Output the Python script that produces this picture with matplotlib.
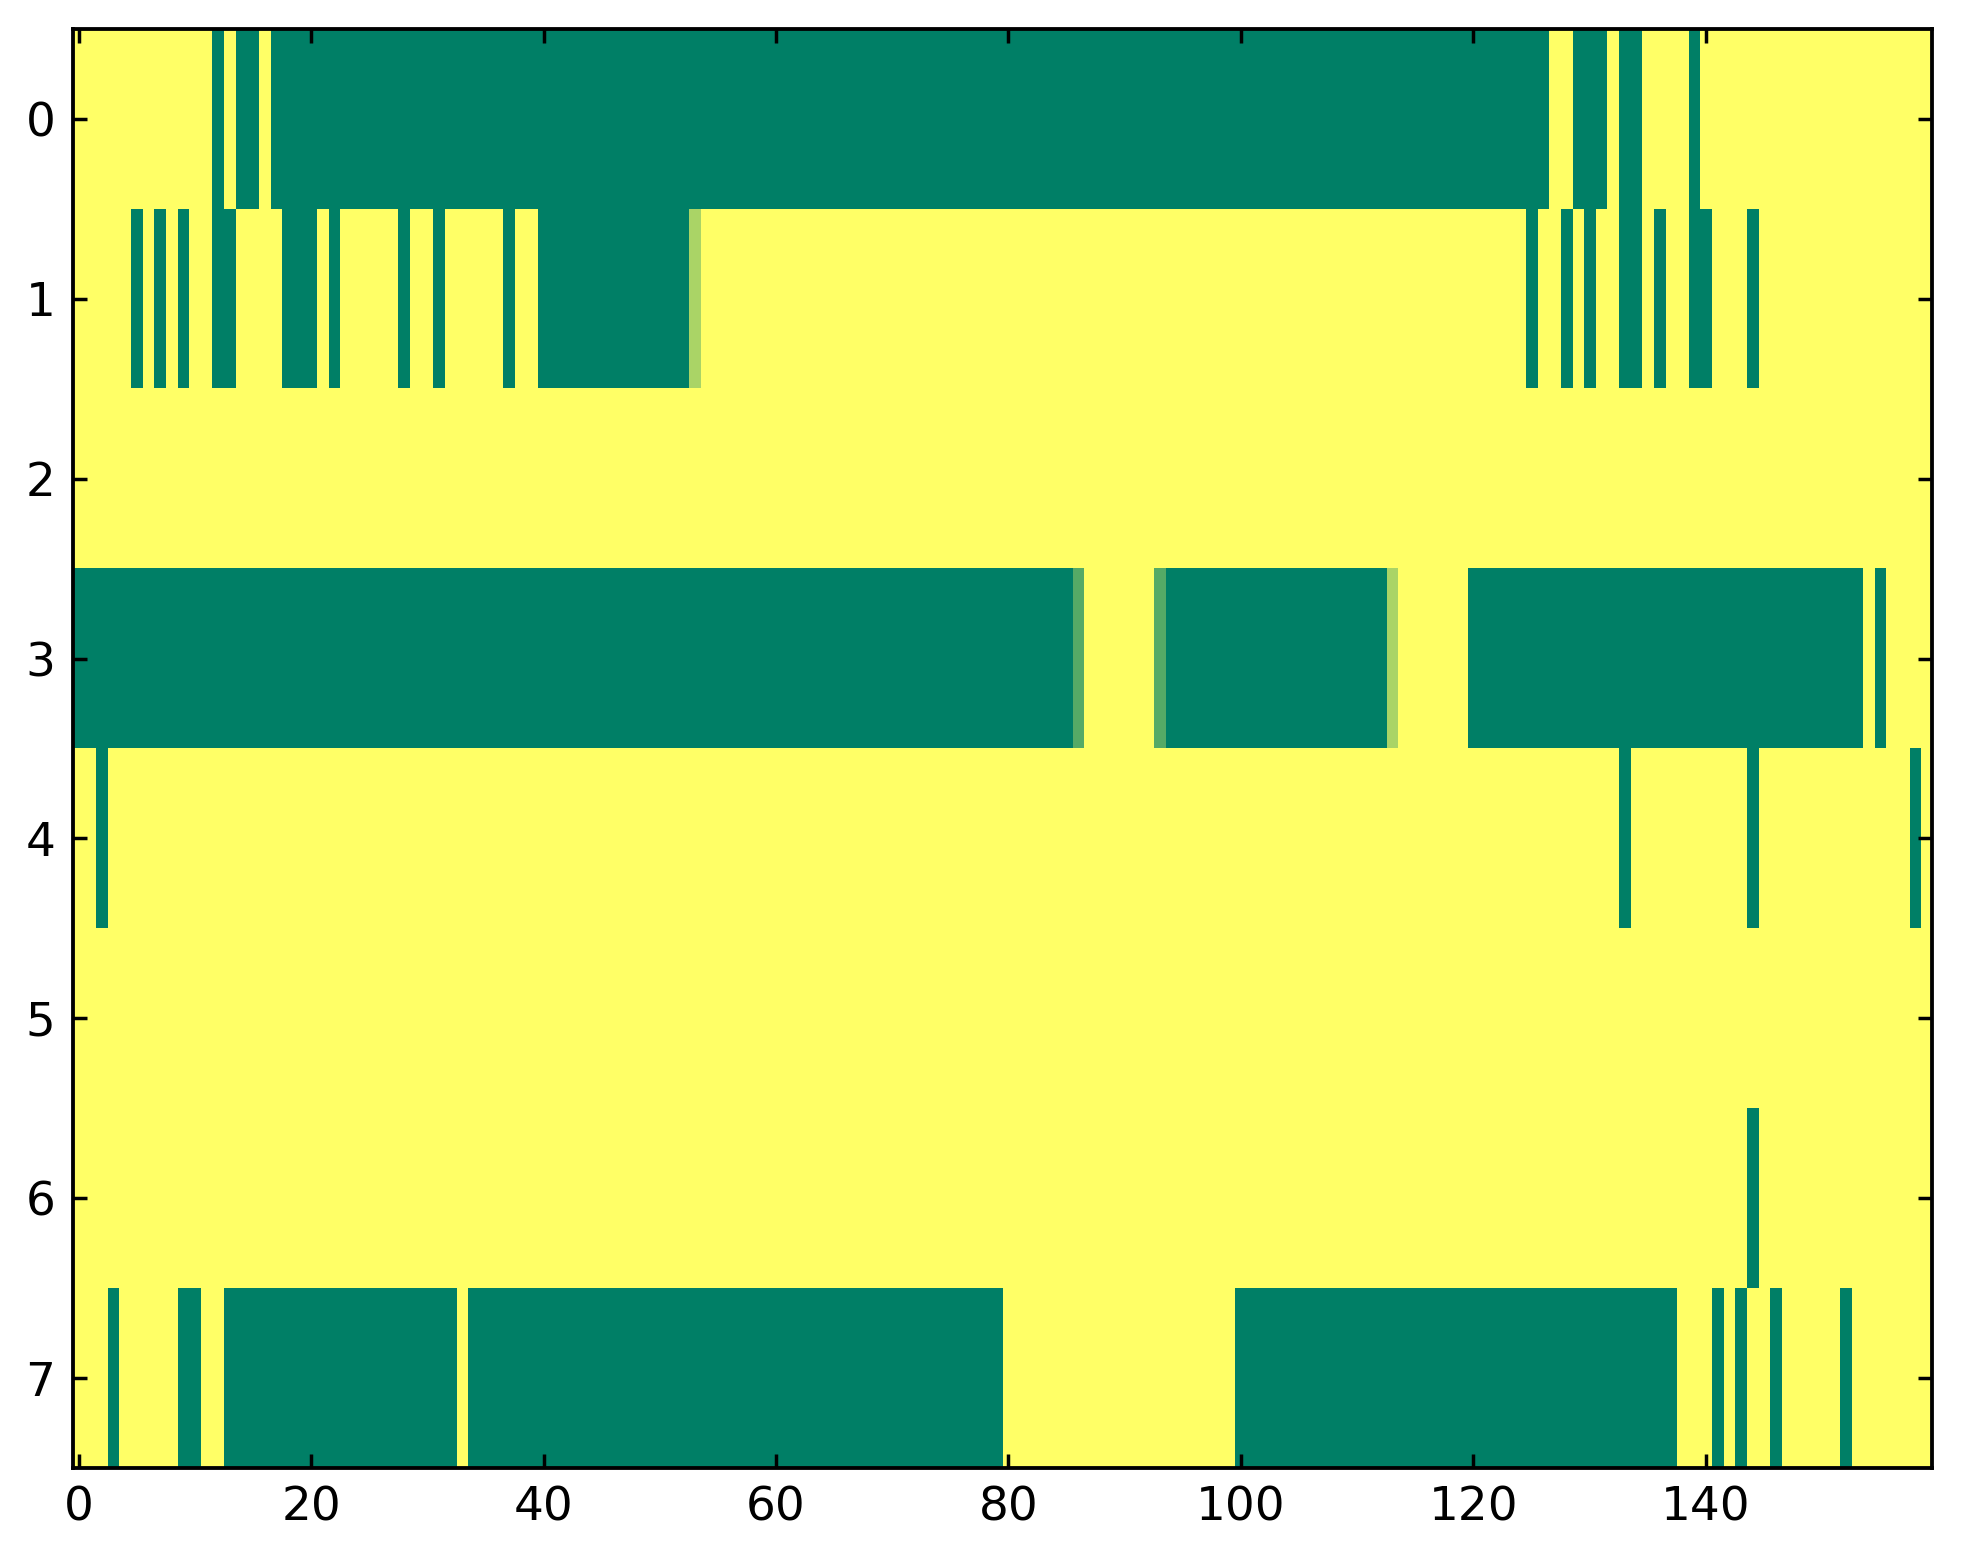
import numpy as np
import matplotlib
matplotlib.use('Agg')
import matplotlib.pyplot as plt

n_cols = 160
n_rows = 8

# green (value 0) runs per row, as (first column, last column) inclusive
row0_green = [(12, 12), (14, 15), (17, 126), (129, 131), (133, 134), (139, 139)]
row1_green = [(5, 5), (7, 7), (9, 9), (12, 13), (18, 20), (22, 22), (28, 28),
              (31, 31), (37, 37), (40, 52), (125, 125), (128, 128), (130, 130),
              (133, 134), (136, 136), (139, 140), (144, 144)]
row2_green = []
row3_green = [(0, 85), (94, 112), (120, 153), (155, 155)]
row4_green = [(2, 2), (133, 133), (144, 144), (158, 158)]
row5_green = []
row6_green = [(144, 144)]
row7_green = [(3, 3), (9, 10), (13, 32), (34, 79), (100, 137), (141, 141),
              (143, 143), (146, 146), (152, 152)]

# partial cells: (row, column, value)
partial_cells = [(1, 53, 2 / 3), (3, 86, 1 / 3), (3, 93, 1 / 3), (3, 113, 2 / 3)]

green_runs = [row0_green, row1_green, row2_green, row3_green,
              row4_green, row5_green, row6_green, row7_green]

grid = np.ones((n_rows, n_cols))
for r, runs in enumerate(green_runs):
    for a, b in runs:
        grid[r, a:b + 1] = 0.0
for r, c, v in partial_cells:
    grid[r, c] = v

plt.rcParams['font.family'] = ['DejaVu Sans']

fig = plt.figure(figsize=(7.852, 6.256), dpi=250)
ax = fig.add_axes([0.0371, 0.0614, 0.9473, 0.920])
ax.imshow(grid, cmap='summer', vmin=0, vmax=1, interpolation='nearest',
          aspect='auto')

ax.set_xticks(range(0, 141, 20))
ax.set_yticks(range(n_rows))
ax.tick_params(direction='in', length=4, width=1, top=True, right=True,
               labelsize=13.5, pad=5)
for s in ax.spines.values():
    s.set_linewidth(1.1)

plt.savefig('out.png', dpi=250)
plt.close()
